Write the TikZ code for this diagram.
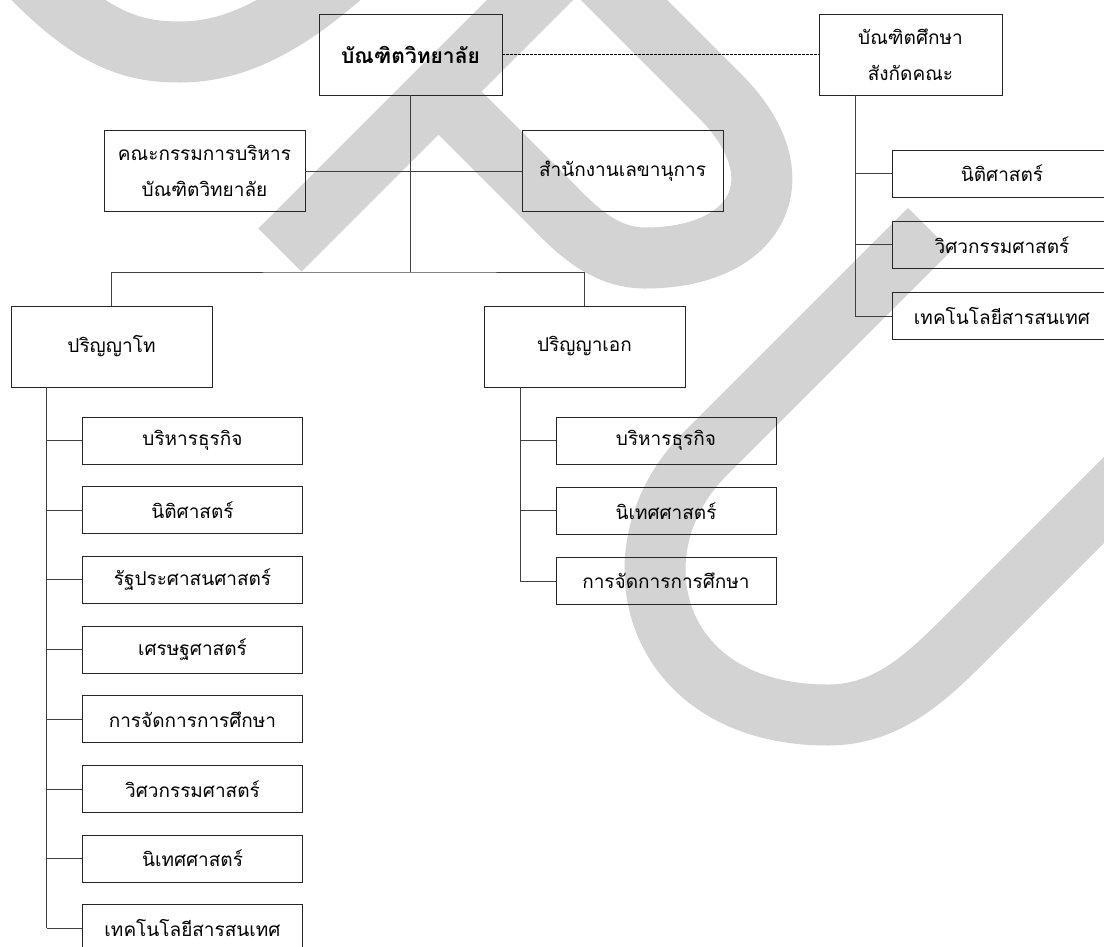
\documentclass[tikz,border=0pt]{standalone}
\usepackage{fontspec}
\newfontfamily\thaifont[Script=Thai]{Loma}
\usetikzlibrary{positioning}
\definecolor{wmgray}{RGB}{211,211,211}

\begin{document}
\begin{tikzpicture}[x=1pt, y=-1pt,
    unit/.style={draw=black!85, line width=0.9pt, minimum width=201pt, minimum height=81pt,
      inner sep=0pt, align=center, font=\thaifont\fontsize{19}{36}\selectfont},
    sub/.style={unit, minimum width=220pt, minimum height=47pt},
    link/.style={draw=black!75, line width=0.9pt},
    wm/.style={draw=wmgray, line width=61pt}]
	  \useasboundingbox (0,0) rectangle (1104,946);
	  % watermark behind the chart
	  \draw[wm] (-10,-70) .. controls (80,40) and (130,52) .. (180,52) .. controls (240,52) and (300,20) .. (380,-60);
	  \draw[wm, line join=miter] (280,250) -- (577,-47) -- (720,96) .. controls (800,176) and (760,258) .. (645,258) .. controls (600,258) and (570,223) .. (548,201) -- (438,91);
	  \draw[wm] (929.5,229.5) -- (705,454) .. controls (610,549) and (650,715) .. (828,715) .. controls (890,715) and (930,674) .. (972,632) -- (1230,374);

	  \node[unit, minimum width=183pt, font=\thaifont\bfseries\fontsize{21}{36}\selectfont] (grad) at (410.5,54.5) {บัณฑิตวิทยาลัย};
	  \node[unit, minimum width=183pt] (faculty) at (910.5,54.5) {บัณฑิตศึกษา\\สังกัดคณะ};
	  \node[unit] (board) at (204.5,171) {คณะกรรมการบริหาร\\บัณฑิตวิทยาลัย};
	  \node[unit] (office) at (622.5,171) {สำนักงานเลขานุการ};
	  \node[unit] (master) at (111.5,346.5) {ปริญญาโท};
	  \node[unit] (doctor) at (584.5,346.5) {ปริญญาเอก};

	  \draw[link, draw=black, line width=1.5pt, dash pattern=on 2.5pt off 1.5pt] (grad.east) -- (faculty.west);
	  \draw[link] (board.east) -- (office.west);
	  \coordinate (split) at (grad.south |- 0,272);
	  \draw[link] (grad.south) -- (split);
	  \draw[link] (master.north) |- (split) -| (doctor.north);

	  % master programmes
	  \coordinate (mtop) at ([xshift=-65pt]master.south);
	  \foreach \txt [count=\i] in {บริหารธุรกิจ, นิติศาสตร์, รัฐประศาสนศาสตร์, เศรษฐศาสตร์, การจัดการการศึกษา, วิศวกรรมศาสตร์, นิเทศศาสตร์, เทคโนโลยีสารสนเทศ}{
	    \node[sub] (m\i) at (192.5,370.8+69.7*\i) {\txt};
	    \draw[link] (mtop |- m\i.west) -- (m\i.west);
	  }
	  \draw[link] (mtop) -- (mtop |- m8.west);

	  % doctoral programmes
	  \coordinate (dtop) at ([xshift=-64.5pt]doctor.south);
	  \foreach \txt [count=\i] in {บริหารธุรกิจ, นิเทศศาสตร์, การจัดการการศึกษา}{
	    \node[sub] (d\i) at (666,370.5+70.2*\i) {\txt};
	    \draw[link] (dtop |- d\i.west) -- (d\i.west);
	  }
	  \draw[link] (dtop) -- (dtop |- d3.west);

	  % faculty programmes
	  \coordinate (ftop) at ([xshift=-55.5pt]faculty.south);
	  \foreach \txt [count=\i] in {นิติศาสตร์, วิศวกรรมศาสตร์, เทคโนโลยีสารสนเทศ}{
	    \node[sub] (f\i) at (1002,102.5+71.2*\i) {\txt};
	    \draw[link] (ftop |- f\i.west) -- (f\i.west);
	  }
	  \draw[link] (ftop) -- (ftop |- f3.west);
	\end{tikzpicture}
\end{document}
